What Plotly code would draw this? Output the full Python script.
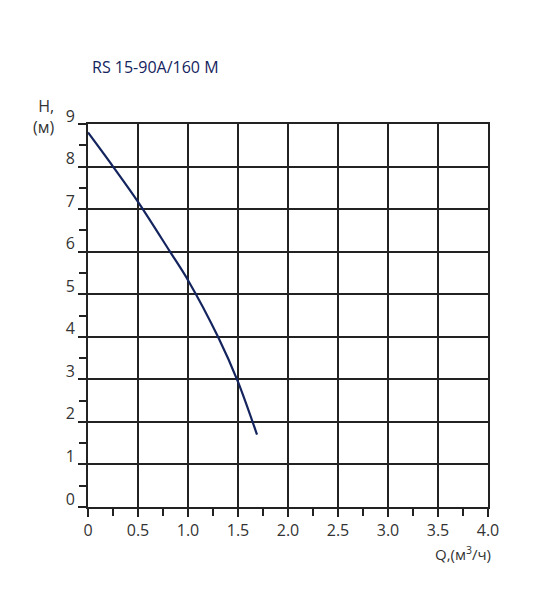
import plotly.graph_objects as go

# pump curve
flow = [0, 0.25, 0.5, 0.82, 1.0, 1.3, 1.5, 1.69]
head = [8.8, 8.0, 7.17, 6.0, 5.33, 4.0, 2.94, 1.7]

x_ticks = [0, 0.5, 1.0, 1.5, 2.0, 2.5, 3.0, 3.5, 4.0]
x_labels = ['0', '0.5', '1.0', '1.5', '2.0', '2.5', '3.0', '3.5', '4.0']
y_ticks = [0, 1, 2, 3, 4, 5, 6, 7, 8, 9]

title_text = 'RS 15-90A/160 M'
navy = '#14245e'
ink = '#222222'
font = 'Open Sans, Noto Sans, sans-serif'

fig = go.Figure()
fig.add_trace(go.Scatter(x=flow, y=head, mode='lines',
                         line=dict(color=navy, width=2.2, shape='spline', smoothing=0.9),
                         hoverinfo='skip', showlegend=False))

axis_common = dict(showline=True, linecolor=ink, linewidth=2, mirror=True,
                   showgrid=True, gridcolor=ink, gridwidth=2,
                   ticks='outside', ticklen=8, tickwidth=2, tickcolor=ink,
                   zeroline=False, tickfont=dict(family=font, size=16, color='#333333'))

fig.update_xaxes(range=[0, 4], tickvals=x_ticks, ticktext=x_labels,
                 minor=dict(dtick=0.25, tick0=0, ticks='outside', ticklen=7, tickwidth=2, tickcolor=ink, showgrid=False),
                 **axis_common)
fig.update_yaxes(range=[0, 9], tickvals=y_ticks, ticklabelshift=-8,
                 minor=dict(dtick=0.5, tick0=0, ticks='outside', ticklen=7, tickwidth=2, tickcolor=ink, showgrid=False),
                 **axis_common)

fig.add_annotation(text=title_text, xref='paper', yref='paper', x=0.005, y=1.148,
                   xanchor='left', yanchor='middle', showarrow=False,
                   font=dict(family=font, size=16, color=navy))
fig.add_annotation(text='H,<br>(м)', xref='paper', yref='paper', x=-0.08, y=1.019,
                   xanchor='right', yanchor='middle', align='right', showarrow=False,
                   font=dict(family=font, size=16, color='#333333'))
fig.add_annotation(text='Q,(м<sup>3</sup>/ч)', xref='paper', yref='paper', x=1.013, y=-0.121,
                   xanchor='right', yanchor='middle', showarrow=False,
                   font=dict(family=font, size=15, color='#333333'))

# page body adds ~8px, so margins are pulled in to keep the plot box in place
fig.update_layout(width=552, height=600, plot_bgcolor='white', paper_bgcolor='white',
                  margin=dict(l=80, r=72, t=116, b=101))

fig.write_html("out.html")
